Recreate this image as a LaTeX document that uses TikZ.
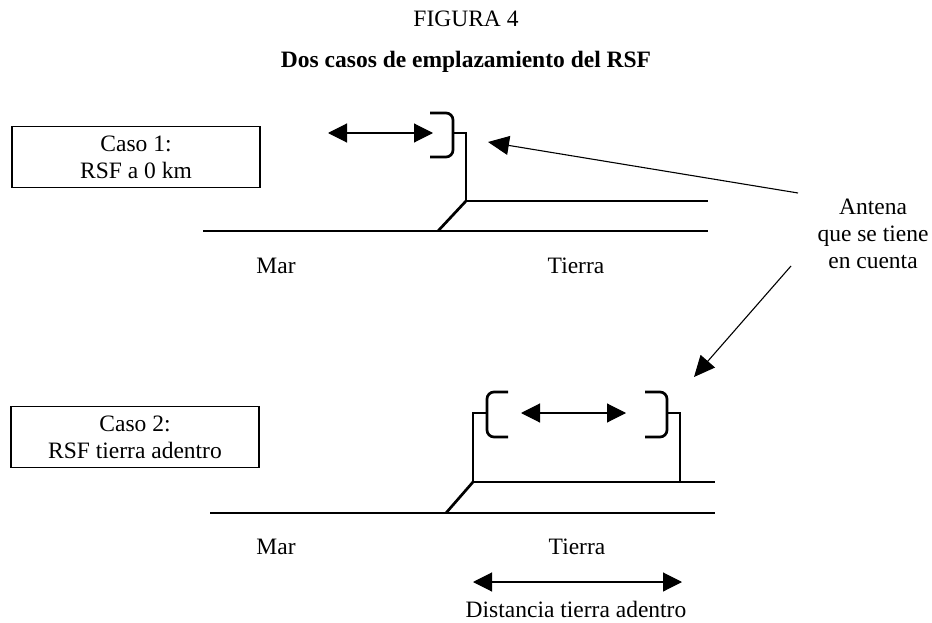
\documentclass[tikz,border=0pt]{standalone}
\usepackage{fontspec}
\setmainfont{Liberation Serif}
\usetikzlibrary{arrows.meta,positioning}

\tikzset{
  texto/.style={font=\fontsize{23.5}{27}\selectfont, inner sep=0pt},
  caja/.style={texto, draw, rectangle, line width=1.8pt, minimum width=248pt, minimum height=61pt, align=center},
  suelo/.style={line width=2.7pt},
  antena/.style={line width=2.7pt, rounded corners=7pt},
  doble/.style={line width=1.1pt, {Triangle[length=19pt,width=19pt]}-{Triangle[length=19pt,width=19pt]}},
  punta/.style={line width=1.1pt, -{Triangle[length=21pt,width=19pt]}}
}

\begin{document}
\begin{tikzpicture}[x=1pt, y=-1pt]
        \useasboundingbox (0,0) rectangle (932,623);

        % Titulo
        \node[texto] (fig) at (466,19) {FIGURA 4};
        \node[texto, font=\fontsize{23.5}{27}\selectfont\bfseries] (titulo) at (466,62) {Dos casos de emplazamiento del RSF};

        % Caso 1: RSF a 0 km
        \node[caja] (caso1) at (136,157) {Caso 1:\\RSF a 0 km};
        \coordinate (izq1) at (328,133);
        \coordinate (der1) at (433,133);
        \draw[doble] (izq1) -- (der1);
        \draw[antena] (430,113) -- (453,113) -- (453,157) -- (430,157);
        \draw[suelo] (453,133) -- (466,133) -- (466,201) -- (708,201);
        \draw[suelo] (438,231) -- (466,201);
        \draw[suelo] (203,231) -- (708,231);
        \node[texto] (mar1) at (276,266) {Mar};
        \node[texto] (tierra1) at (576,266) {Tierra};

        % Antena que se tiene en cuenta
        \node[texto, align=center] (nota) at (873,234) {Antena\\que se tiene\\en cuenta};
        \coordinate (ini1) at (798,193);
        \coordinate (fin1) at (488,142);
        \coordinate (ini2) at (791,266);
        \coordinate (fin2) at (694,377);
        \draw[punta] (ini1) -- (fin1);
        \draw[punta] (ini2) -- (fin2);

        % Caso 2: RSF tierra adentro
        \node[caja] (caso2) at (135,437) {Caso 2:\\RSF tierra adentro};
        \coordinate (izq2) at (521,413);
        \coordinate (der2) at (626,413);
        \draw[doble] (izq2) -- (der2);
        \draw[antena] (508,392) -- (487,392) -- (487,437) -- (508,437);
        \draw[antena] (645,392) -- (667,392) -- (667,437) -- (645,437);
        \draw[suelo] (487,413) -- (473,413) -- (473,482) -- (715,482);
        \draw[suelo] (667,413) -- (680,413) -- (680,482);
        \draw[suelo] (446,513) -- (473,482);
        \draw[suelo] (210,513) -- (715,513);
        \node[texto] (mar2) at (276,547) {Mar};
        \node[texto] (tierra2) at (577,547) {Tierra};

        % Distancia tierra adentro
        \coordinate (izq3) at (473,582);
        \coordinate (der3) at (682,582);
        \draw[doble] (izq3) -- (der3);
        \node[texto] (dist) at (576,609) {Distancia tierra adentro};
    \end{tikzpicture}
\end{document}
